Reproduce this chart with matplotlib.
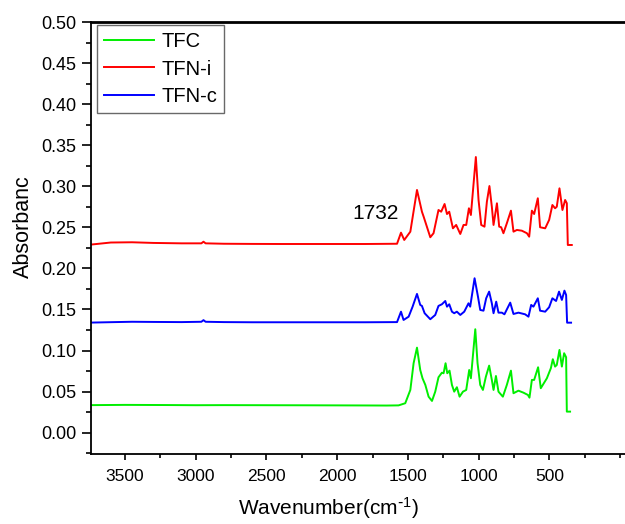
import matplotlib
matplotlib.use("Agg")
import matplotlib.pyplot as plt
from matplotlib.ticker import MultipleLocator, FormatStrFormatter

plt.rcParams["font.family"] = ["Liberation Sans", "DejaVu Sans"]
plt.rcParams["mathtext.default"] = "regular"

# FTIR spectra (wavenumber in cm-1, absorbance)
tfc_wn = [3740, 3500, 3200, 3000, 2800, 2500, 2200, 2000, 1800, 1650,
          1566, 1519, 1483, 1460, 1436, 1413, 1397, 1377, 1354, 1330,
          1307, 1284, 1260, 1248, 1234, 1222, 1206, 1189, 1173, 1154,
          1135, 1111, 1088, 1067, 1055, 1024, 1008, 989, 970, 949,
          926, 907, 895, 878, 860, 829, 801, 772, 754, 719,
          684, 652, 641, 624, 608, 580, 561, 518, 490, 476,
          460, 448, 429, 412, 396, 382, 377, 354]
tfc_abs = [0.0335, 0.0338, 0.0336, 0.0334, 0.0335, 0.0334, 0.0333, 0.0332, 0.0331, 0.0330,
           0.0332, 0.0358, 0.0520, 0.0845, 0.1035, 0.0763, 0.0662, 0.0581, 0.0438, 0.0386,
           0.0499, 0.0674, 0.0730, 0.0723, 0.0845, 0.0723, 0.0755, 0.0581, 0.0499, 0.0553,
           0.0438, 0.0499, 0.0520, 0.0763, 0.0662, 0.1259, 0.0845, 0.0581, 0.0520, 0.0682,
           0.0816, 0.0642, 0.0520, 0.0690, 0.0499, 0.0438, 0.0581, 0.0755, 0.0480, 0.0511,
           0.0487, 0.0459, 0.0426, 0.0642, 0.0642, 0.0796, 0.0541, 0.0662, 0.0784, 0.0894,
           0.0804, 0.0824, 0.1007, 0.0804, 0.0967, 0.0918, 0.0256, 0.0256]

tfni_wn = [3740, 3600, 3450, 3300, 3100, 2960, 2945, 2930, 2800, 2600,
           2400, 2200, 2000, 1800, 1577, 1549, 1526, 1483, 1436, 1401,
           1389, 1342, 1319, 1284, 1265, 1241, 1224, 1208, 1182, 1159,
           1130, 1107, 1088, 1069, 1055, 1020, 1001, 982, 959, 942,
           924, 907, 895, 871, 855, 841, 825, 801, 772, 754,
           730, 695, 659, 643, 624, 608, 582, 566, 530, 502,
           479, 460, 448, 429, 408, 389, 377, 370, 342]
tfni_abs = [0.2290, 0.2315, 0.2318, 0.2310, 0.2305, 0.2305, 0.2325, 0.2305, 0.2300, 0.2298,
            0.2297, 0.2297, 0.2297, 0.2297, 0.2300, 0.2435, 0.2346, 0.2447, 0.2955, 0.2690,
            0.2630, 0.2379, 0.2428, 0.2711, 0.2690, 0.2784, 0.2662, 0.2690, 0.2488, 0.2529,
            0.2419, 0.2529, 0.2529, 0.2732, 0.2650, 0.3356, 0.2833, 0.2529, 0.2508, 0.2812,
            0.3003, 0.2751, 0.2529, 0.2793, 0.2508, 0.2501, 0.2428, 0.2549, 0.2703, 0.2447,
            0.2468, 0.2459, 0.2428, 0.2386, 0.2703, 0.2662, 0.2854, 0.2501, 0.2488, 0.2590,
            0.2772, 0.2732, 0.2751, 0.2975, 0.2711, 0.2833, 0.2793, 0.2285, 0.2285]

tfnc_wn = [3740, 3600, 3450, 3300, 3100, 2960, 2945, 2930, 2800, 2600,
           2400, 2200, 2000, 1800, 1577, 1549, 1531, 1495, 1467, 1436,
           1413, 1401, 1382, 1342, 1307, 1284, 1260, 1236, 1224, 1208,
           1189, 1173, 1154, 1130, 1102, 1072, 1060, 1029, 1005, 989,
           966, 947, 926, 907, 895, 876, 860, 836, 818, 797,
           777, 754, 719, 672, 648, 629, 613, 582, 566, 530,
           502, 479, 453, 432, 412, 394, 382, 375, 347]
tfnc_abs = [0.1340, 0.1345, 0.1350, 0.1348, 0.1346, 0.1350, 0.1370, 0.1350, 0.1346, 0.1344,
            0.1344, 0.1344, 0.1344, 0.1344, 0.1346, 0.1473, 0.1372, 0.1412, 0.1534, 0.1689,
            0.1555, 0.1543, 0.1454, 0.1381, 0.1433, 0.1543, 0.1563, 0.1603, 0.1534, 0.1563,
            0.1473, 0.1454, 0.1473, 0.1433, 0.1473, 0.1575, 0.1534, 0.1880, 0.1656, 0.1494,
            0.1485, 0.1636, 0.1717, 0.1575, 0.1454, 0.1595, 0.1461, 0.1461, 0.1441, 0.1514,
            0.1583, 0.1445, 0.1461, 0.1441, 0.1412, 0.1555, 0.1534, 0.1636, 0.1485, 0.1473,
            0.1527, 0.1636, 0.1603, 0.1717, 0.1616, 0.1729, 0.1676, 0.1339, 0.1339]

series_labels = ["TFC", "TFN-i", "TFN-c"]
series_colors = ["#00ee00", "#ff0000", "#0000ff"]
peak_label = 1732
peak_label_abs = 0.2670

fig = plt.figure(figsize=(6.25, 5.24), dpi=100)
ax = fig.add_axes([0.1456, 0.1336, 0.8693, 0.8244])

for wn, ab, lab, col in zip([tfc_wn, tfni_wn, tfnc_wn],
                            [tfc_abs, tfni_abs, tfnc_abs],
                            series_labels, series_colors):
    ax.plot(wn, ab, color=col, lw=1.4, label=lab)

ax.text(peak_label, peak_label_abs, str(peak_label), ha="center", va="center",
        fontsize=15)

ax.set_xlim(3740, -100)
ax.set_ylim(-0.026, 0.5)
ax.set_xticks([3500, 3000, 2500, 2000, 1500, 1000, 500])
ax.xaxis.set_minor_locator(MultipleLocator(250))
ax.yaxis.set_major_locator(MultipleLocator(0.05))
ax.yaxis.set_minor_locator(MultipleLocator(0.025))
ax.yaxis.set_major_formatter(FormatStrFormatter("%.2f"))

ax.spines["right"].set_visible(False)
for s in ["left", "bottom"]:
    ax.spines[s].set_linewidth(1.3)
ax.spines["top"].set_linewidth(2.0)

ax.tick_params(axis="y", which="major", direction="out", length=6.5, width=1.2,
               labelsize=13, pad=4)
ax.tick_params(axis="y", which="minor", direction="out", length=3.5, width=1.2)
ax.tick_params(axis="x", which="major", direction="out", length=4.5, width=1.2,
               labelsize=12.5, pad=6)
ax.tick_params(axis="x", which="minor", direction="out", length=3, width=1.2)

ax.set_ylabel("Absorbanc", fontsize=15.5)
ax.set_xlabel("Wavenumber(cm$^{\\text{-}1}$)", fontsize=15)
ax.yaxis.set_label_coords(-0.105, 0.527)
ax.xaxis.set_label_coords(0.437, -0.095)

leg = ax.legend(loc="upper left", bbox_to_anchor=(0.011, 0.993), borderaxespad=0,
                fontsize=14.5, frameon=True, fancybox=False, handlelength=2.5,
                handletextpad=0.35, labelspacing=0.42, borderpad=0.35)
leg.get_frame().set_edgecolor("#444444")
leg.get_frame().set_linewidth(1.0)

fig.savefig("out.png", dpi=100)
